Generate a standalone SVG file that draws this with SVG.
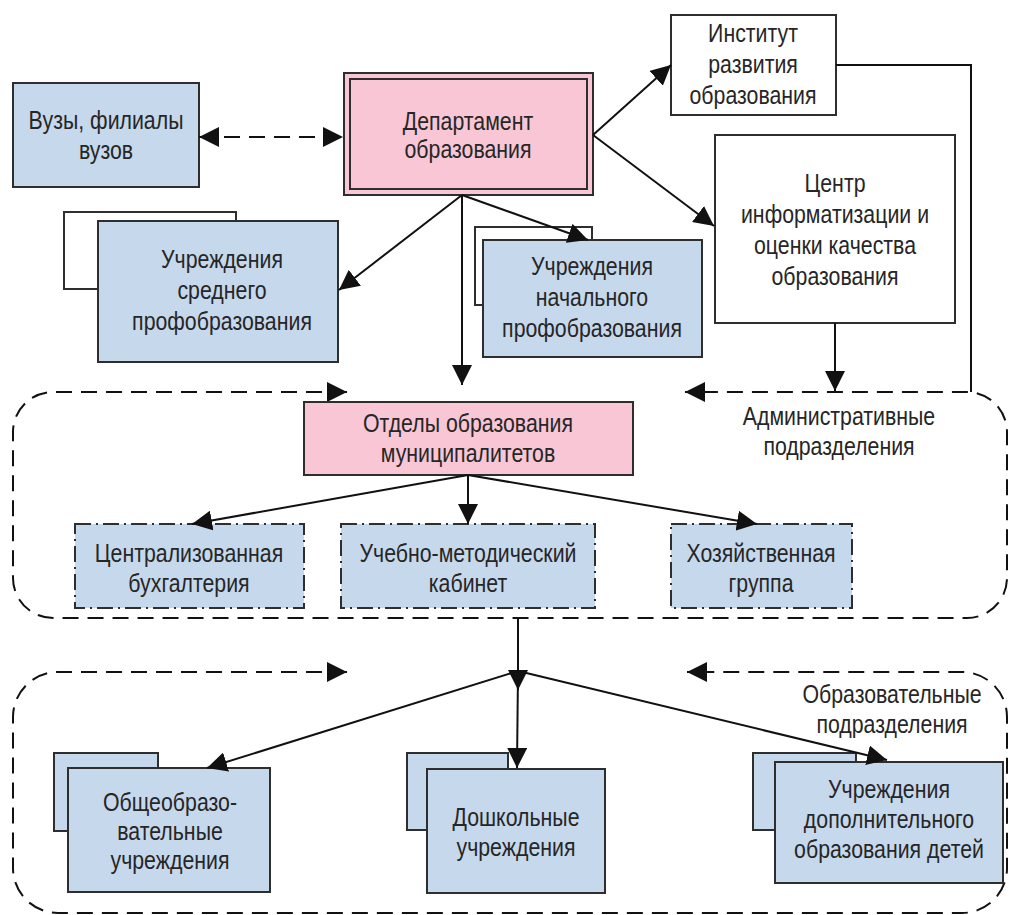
<svg xmlns="http://www.w3.org/2000/svg" width="1009" height="915" viewBox="0 0 1009 915">
<style>
.t{font-family:"Liberation Sans",Arial,sans-serif;font-size:26px;fill:#262626;text-anchor:middle}
.blue{fill:#C6D8EC;stroke:#2E2E2E;stroke-width:2}
.white{fill:#FFFFFF;stroke:#2E2E2E;stroke-width:2}
.pink{fill:#F8C6D5;stroke:#2E2E2E;stroke-width:2}
.dd{fill:#C6D8EC;stroke:#2E2E2E;stroke-width:2;stroke-dasharray:16 5 2 5}
.c{fill:none;stroke:#111;stroke-width:2}
.dash{fill:none;stroke:#111;stroke-width:2;stroke-dasharray:16 9}
</style>
<defs>
<marker id="ah" viewBox="0 0 20 20" refX="20" refY="10" markerWidth="20" markerHeight="20" markerUnits="userSpaceOnUse" orient="auto-start-reverse">
<path d="M0,0 L20,10 L0,20 z" fill="#111"/>
</marker>
</defs>

<g id="containers">
<path class="dash" d="M347,392 H53 A40,40 0 0 0 13,432 V578 A40,40 0 0 0 53,618 H967 A40,40 0 0 0 1007,578 V432 A40,40 0 0 0 967,392 H685" marker-start="url(#ah)" marker-end="url(#ah)"/>
<path class="dash" d="M347,672 H58 A45,45 0 0 0 13,717 V868 A45,45 0 0 0 58,913 H962 A45,45 0 0 0 1007,868 V717 A45,45 0 0 0 962,672 H687" marker-start="url(#ah)" marker-end="url(#ah)"/>
</g>

<g id="vuzy">
<rect class="blue" x="13" y="83" width="186" height="104"/>
<text class="t" transform="translate(106,129) scale(0.82,1)">Вузы, филиалы</text>
<text class="t" transform="translate(106,159) scale(0.82,1)">вузов</text>
</g>

<g id="departament">
<rect class="pink" x="344" y="73" width="249" height="122"/>
<rect class="pink" x="350" y="79" width="237" height="110"/>
<text class="t" transform="translate(468,130) scale(0.82,1)">Департамент</text>
<text class="t" transform="translate(468,158) scale(0.82,1)">образования</text>
</g>

<g id="institut">
<rect class="white" x="671" y="15" width="165" height="100"/>
<text class="t" transform="translate(753,42) scale(0.82,1)">Институт</text>
<text class="t" transform="translate(753,73) scale(0.82,1)">развития</text>
<text class="t" transform="translate(753,104) scale(0.82,1)">образования</text>
</g>

<g id="centr">
<rect class="white" x="715" y="135" width="240" height="188"/>
<text class="t" transform="translate(835,192) scale(0.82,1)">Центр</text>
<text class="t" transform="translate(835,223) scale(0.82,1)">информатизации и</text>
<text class="t" transform="translate(835,254) scale(0.82,1)">оценки качества</text>
<text class="t" transform="translate(835,285) scale(0.82,1)">образования</text>
</g>

<g id="srednee">
<rect class="white" x="64" y="212" width="172" height="77"/>
<rect class="blue" x="98" y="221" width="240" height="141"/>
<text class="t" transform="translate(222,268) scale(0.82,1)">Учреждения</text>
<text class="t" transform="translate(222,299) scale(0.82,1)">среднего</text>
<text class="t" transform="translate(222,330) scale(0.82,1)">профобразования</text>
</g>

<g id="nachalnoe">
<rect class="white" x="475" y="227" width="117" height="78"/>
<rect class="blue" x="483" y="240" width="219" height="117"/>
<text class="t" transform="translate(592,275) scale(0.82,1)">Учреждения</text>
<text class="t" transform="translate(592,306) scale(0.82,1)">начального</text>
<text class="t" transform="translate(592,337) scale(0.82,1)">профобразования</text>
</g>

<g id="otdely">
<rect class="pink" x="304" y="402" width="329" height="73"/>
<text class="t" transform="translate(468,432) scale(0.82,1)">Отделы образования</text>
<text class="t" transform="translate(468,462) scale(0.82,1)">муниципалитетов</text>
</g>

<g id="admin-label">
<text class="t" transform="translate(839,425) scale(0.82,1)">Административные</text>
<text class="t" transform="translate(839,455) scale(0.82,1)">подразделения</text>
</g>

<g id="buh">
<rect class="dd" x="75" y="524" width="229" height="84"/>
<text class="t" transform="translate(189,562) scale(0.82,1)">Централизованная</text>
<text class="t" transform="translate(189,592) scale(0.82,1)">бухгалтерия</text>
</g>

<g id="umk">
<rect class="dd" x="341" y="524" width="254" height="84"/>
<text class="t" transform="translate(468,562) scale(0.82,1)">Учебно-методический</text>
<text class="t" transform="translate(468,592) scale(0.82,1)">кабинет</text>
</g>

<g id="hoz">
<rect class="dd" x="671" y="524" width="181" height="84"/>
<text class="t" transform="translate(761,562) scale(0.82,1)">Хозяйственная</text>
<text class="t" transform="translate(761,592) scale(0.82,1)">группа</text>
</g>

<g id="obr-label">
<text class="t" transform="translate(892,703) scale(0.82,1)">Образовательные</text>
<text class="t" transform="translate(892,733) scale(0.82,1)">подразделения</text>
</g>

<g id="obsheobr">
<rect class="blue" x="54" y="753" width="104" height="78"/>
<rect class="blue" x="68" y="768" width="202" height="124"/>
<text class="t" transform="translate(170,811) scale(0.82,1)">Общеобразо-</text>
<text class="t" transform="translate(170,840) scale(0.82,1)">вательные</text>
<text class="t" transform="translate(170,869) scale(0.82,1)">учреждения</text>
</g>

<g id="doshk">
<rect class="blue" x="407" y="753" width="101" height="77"/>
<rect class="blue" x="427" y="769" width="178" height="124"/>
<text class="t" transform="translate(516,826) scale(0.82,1)">Дошкольные</text>
<text class="t" transform="translate(516,856) scale(0.82,1)">учреждения</text>
</g>

<g id="dop">
<rect class="blue" x="753" y="753" width="103" height="77"/>
<rect class="blue" x="775" y="762" width="228" height="121"/>
<text class="t" transform="translate(889,798) scale(0.82,1)">Учреждения</text>
<text class="t" transform="translate(889,828) scale(0.82,1)">дополнительного</text>
<text class="t" transform="translate(889,858) scale(0.82,1)">образования детей</text>
</g>

<g id="connectors">
<line class="dash" x1="199" y1="137" x2="343" y2="137" marker-start="url(#ah)" marker-end="url(#ah)"/>
<line class="c" x1="593" y1="135" x2="671" y2="65" marker-end="url(#ah)"/>
<line class="c" x1="593" y1="135" x2="714" y2="226" marker-end="url(#ah)"/>
<line class="c" x1="462" y1="195" x2="339" y2="290" marker-end="url(#ah)"/>
<line class="c" x1="462" y1="195" x2="462" y2="385" marker-end="url(#ah)"/>
<line class="c" x1="462" y1="195" x2="588" y2="240" marker-end="url(#ah)"/>
<line class="c" x1="835" y1="323" x2="835" y2="391" marker-end="url(#ah)"/>
<polyline class="c" points="836,65 971,65 971,392"/>
<line class="c" x1="468" y1="475" x2="192" y2="524" marker-end="url(#ah)"/>
<line class="c" x1="468" y1="475" x2="468" y2="524" marker-end="url(#ah)"/>
<line class="c" x1="468" y1="475" x2="757" y2="524" marker-end="url(#ah)"/>
<line class="c" x1="518" y1="618" x2="518" y2="690" marker-end="url(#ah)"/>
<line class="c" x1="518" y1="671" x2="207" y2="768" marker-end="url(#ah)"/>
<line class="c" x1="518" y1="671" x2="517" y2="768" marker-end="url(#ah)"/>
<line class="c" x1="518" y1="671" x2="887" y2="760" marker-end="url(#ah)"/>
</g>
</svg>
